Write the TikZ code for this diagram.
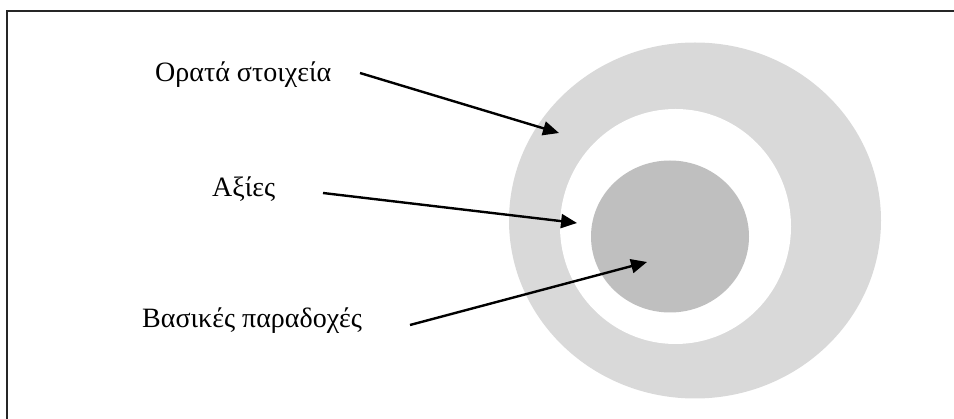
\documentclass[tikz,border=0pt]{standalone}
\usepackage{fontspec}
\setmainfont{Liberation Serif}
\usetikzlibrary{arrows.meta}
\definecolor{ringlight}{HTML}{D9D9D9}
\definecolor{coredark}{HTML}{BFBFBF}
\tikzset{
  label/.style={font=\fontsize{28}{32}\selectfont, inner sep=0pt, anchor=base west},
  pointer/.style={line width=2.4pt, -{Triangle[length=16pt,width=14pt]}},
  frameline/.style={line width=2pt, black!85}
}
\begin{document}
\begin{tikzpicture}[x=1pt,y=-1pt]
\useasboundingbox (0,0) rectangle (954,419);
% frame (top and left only)
\draw[frameline] (7,419) -- (7,11) -- (954,11);
% circles
\fill[ringlight] (695,220.5) ellipse [x radius=186, y radius=178];
\fill[white] (675.5,226.5) ellipse [x radius=115.5, y radius=117.5];
\fill[coredark] (670,236.5) ellipse [x radius=79, y radius=76];
% labels
\node[label] (vis) at (155,82) {Ορατά στοιχεία};
\node[label] (val) at (212,197) {Αξίες};
\node[label] (bas) at (142,328) {Βασικές παραδοχές};
% arrow end points
\coordinate (visS) at (360,73);
\coordinate (visT) at (559,133);
\coordinate (valS) at (323,193);
\coordinate (valT) at (577,223);
\coordinate (basS) at (410,325);
\coordinate (basT) at (647,262);
\draw[pointer] (visS) -- (visT);
\draw[pointer] (valS) -- (valT);
\draw[pointer] (basS) -- (basT);
\end{tikzpicture}
\end{document}
